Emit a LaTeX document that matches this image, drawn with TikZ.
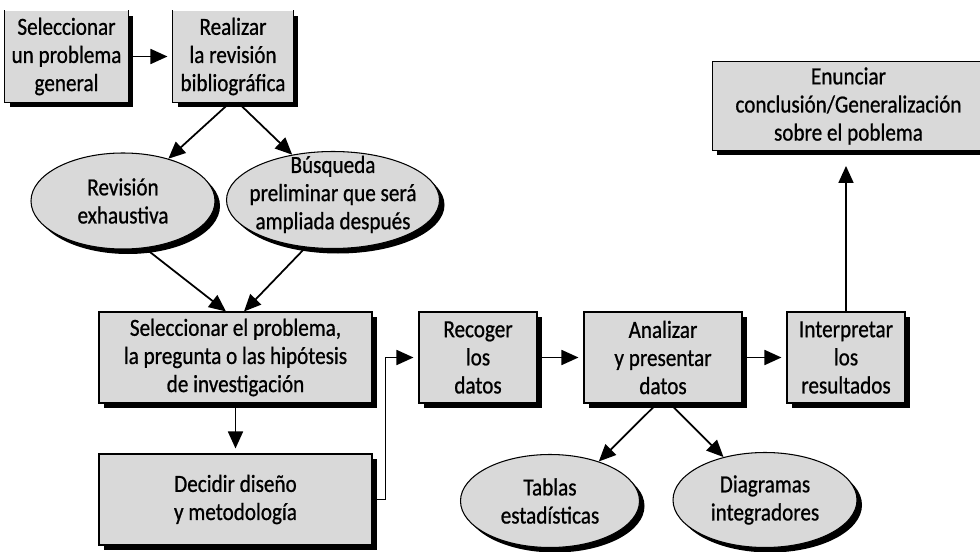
\documentclass[tikz,border=0pt]{standalone}
\usepackage{fontspec}
\setmainfont{Carlito}[FakeStretch=0.86,FakeBold=0.8]
\usetikzlibrary{shapes.geometric,shadows,arrows.meta}

\begin{document}
\begin{tikzpicture}[
                    >={Triangle[length=0.34cm,width=0.3cm]},
                    line width=1pt,
                    sombra/.style={drop shadow={shadow xshift=0.1cm, shadow yshift=-0.1cm, fill=black, opacity=1}},
                    caja/.style={rectangle, draw, line width=0.6pt, fill=black!15, align=center,
                                 font=\fontsize{14}{16}\selectfont, sombra},
                    elipse/.style={ellipse, draw, line width=0.6pt, fill=black!15, align=center, inner sep=-0.2cm,
                                   font=\fontsize{14}{16}\selectfont, sombra},
                    flecha/.style={->, shorten >=0.1cm}
                    ]

    \useasboundingbox (0,0) rectangle (19.6,11.02);

    % parte superior
    \node [caja, draw=none, minimum width=2.46cm, minimum height=1.82cm] (sel) at (1.33,9.89) {Seleccionar\\un problema\\general};
    \node [caja, draw=none, minimum width=2.40cm, minimum height=1.82cm] (rev) at (4.66,9.89) {Realizar\\la revisión\\bibliográfica};
    \draw [line width=0.6pt] (sel.north west) -- (sel.south west) -- (sel.south east) -- (sel.north east);
    \draw [line width=0.6pt] (rev.north west) -- (rev.south west) -- (rev.south east) -- (rev.north east);

    \node [elipse, minimum width=3.68cm, minimum height=1.92cm] (exh) at (2.46,7.00) {Revisión\\exhaustiva};
    \node [elipse, inner ysep=-0.4cm, text depth=0.3cm, minimum width=4.26cm, minimum height=1.94cm] (bus) at (6.66,7.02) {Búsqueda\\preliminar que será\\ampliada después};

    % fila central
    \node [caja, minimum width=5.46cm, minimum height=1.82cm] (pro) at (4.71,3.87) {Seleccionar el problema,\\la pregunta o las hipótesis\\de investigación};
    \node [caja, minimum width=5.46cm, minimum height=1.82cm] (dis) at (4.71,1.03) {Decidir diseño\\y metodología};
    \node [caja, minimum width=2.36cm, minimum height=1.82cm] (rec) at (9.56,3.87) {Recoger\\los\\datos};
    \node [caja, minimum width=3.16cm, minimum height=1.82cm] (ana) at (13.26,3.87) {Analizar\\y presentar\\datos};
    \node [caja, minimum width=2.36cm, minimum height=1.82cm] (int) at (16.92,3.87) {Interpretar\\los\\resultados};
    \node [caja, minimum width=5.45cm, minimum height=1.76cm] (con) at (16.97,8.90) {Enunciar\\conclusión/Generalización\\sobre el poblema};

    \node [elipse, minimum width=3.58cm, minimum height=1.86cm] (tab) at (11.00,1.00) {Tablas\\estadísticas};
    \node [elipse, minimum width=3.68cm, minimum height=1.90cm] (dia) at (15.30,1.02) {Diagramas\\integradores};

    % conexiones
    \draw [flecha] (sel) -- (rev);
    \draw [->] ([xshift=-0.06cm]rev.south) -- (exh.43);
    \draw [->] ([xshift=0.1cm]rev.south) -- (bus.132);
    \draw [->] (exh.-65) -- ([xshift=-0.19cm]pro.north);
    \draw [->] (bus.-120) -- ([xshift=0.17cm]pro.north);
    \draw [flecha] (pro) -- (dis);
    \draw [flecha] (dis.east) -- ++(0.26,0) |- (rec.west);
    \draw [flecha] (rec) -- (ana);
    \draw [flecha] (ana) -- (int);
    \draw [->] ([xshift=-0.12cm]ana.south) -- (tab.39);
    \draw [->] ([xshift=0.14cm]ana.south) -- (dia.134);
    \draw [->, shorten >=0.3cm] (int.north) -- (int.north |- con.south);

\end{tikzpicture}
\end{document}
